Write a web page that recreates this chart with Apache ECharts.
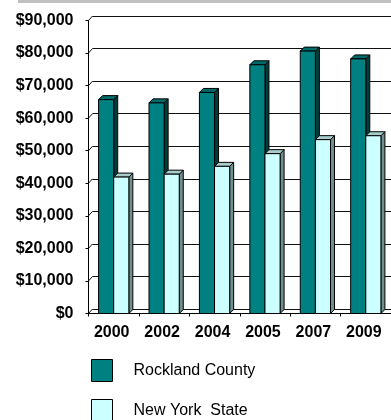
<!DOCTYPE html>
<html>
<head>
<meta charset="utf-8">
<script src="https://cdn.jsdelivr.net/npm/echarts@6/dist/echarts.min.js"></script>
<style>
html,body{margin:0;padding:0;background:#fff;}
#c{width:391px;height:420px;}
</style>
</head>
<body>
<div id="c"></div>
<script>
const years = ['2000', '2002', '2004', '2005', '2007', '2009'];
const rockland = [65700, 64700, 67900, 76400, 80600, 78200];
const newYork = [41900, 42800, 45200, 49100, 53400, 54600];
const seriesNames = ['Rockland County', 'New York  State'];
const gridValues = [0, 10000, 20000, 30000, 40000, 50000, 60000, 70000, 80000, 90000];

const FONT = '"Liberation Sans", Arial, sans-serif';
const D = 4;      // depth offset x
const DY = 4.5;   // depth offset y

function fmt(v) {
  return '$' + String(v).replace(/\B(?=(\d{3})+(?!\d))/g, ',');
}

function makeRender(left, front, side, top) {
  return function (params, api) {
    const cat = api.value(0), v = api.value(1);
    const p = api.coord([cat, v]);
    const b = api.coord([cat, 0]);
    const bw = api.size([1, 0])[0];
    const w = bw * 0.3;
    const x0 = left ? p[0] - w : p[0];
    const x1 = x0 + w;
    const yT = p[1], yB = b[1];
    const st = {stroke: '#000', lineWidth: 1};
    return {
      type: 'group',
      children: [
        {type: 'polygon', shape: {points: [[x1, yT], [x1 + D, yT - D], [x1 + D, yB - D], [x1, yB]]},
         style: Object.assign({fill: side}, st)},
        {type: 'polygon', shape: {points: [[x0, yT], [x0 + D, yT - D], [x1 + D, yT - D], [x1, yT]]},
         style: Object.assign({fill: top}, st)},
        {type: 'rect', shape: {x: x0, y: yT, width: w, height: yB - yT},
         style: Object.assign({fill: front}, st)}
      ]
    };
  };
}

const legendBase = {
  orient: 'vertical', left: 91, padding: 0,
  itemWidth: 21, itemHeight: 22,
  icon: 'rect',
  textStyle: {fontFamily: FONT, fontSize: 16, color: '#000', padding: [0, 0, 0, 16]}
};

const chart = echarts.init(document.getElementById('c'), null, {renderer: 'canvas'});
chart.setOption({
  animation: false,
  backgroundColor: '#fff',
  graphic: [{
    type: 'rect', left: 18, top: 0, shape: {width: 380, height: 3},
    style: {fill: '#c0c0c0'}, silent: true
  }],
  legend: [
    Object.assign({}, legendBase, {top: 359,
      data: [{name: seriesNames[0], itemStyle: {color: '#008080', borderColor: '#000', borderWidth: 1}}]}),
    Object.assign({}, legendBase, {top: 399,
      data: [{name: seriesNames[1], itemStyle: {color: '#ccffff', borderColor: '#000', borderWidth: 1}}]})
  ],
  grid: [
    {left: 88.5 + D, top: 20.5 - DY, width: 309, height: 293, containLabel: false},
    {left: 88.5, top: 20.5, width: 309, height: 293, containLabel: false}
  ],
  xAxis: [
    {gridIndex: 0, type: 'category', data: years, show: false},
    {gridIndex: 1, type: 'category', data: years, boundaryGap: true,
     axisLine: {show: true, lineStyle: {color: '#000', width: 1}},
     axisTick: {show: true, length: 3, lineStyle: {color: '#000'}},
     axisLabel: {fontFamily: FONT, fontSize: 16, fontWeight: 'bold', color: '#000', margin: 11, padding: [0, 4, 0, 0]}
    }
  ],
  yAxis: [
    {gridIndex: 0, type: 'value', min: 0, max: 90000, interval: 10000,
     axisLine: {show: false}, axisTick: {show: false}, axisLabel: {show: false},
     splitLine: {show: true, lineStyle: {color: '#111', width: 1}}},
    {gridIndex: 1, type: 'value', min: 0, max: 90000, interval: 10000,
     axisLine: {show: true, lineStyle: {color: '#000', width: 1}},
     axisTick: {show: true, length: 3, lineStyle: {color: '#000'}},
     splitLine: {show: false},
     axisLabel: {fontFamily: FONT, fontSize: 16, fontWeight: 'bold', color: '#000', margin: 15, formatter: fmt}}
  ],
  series: [
    {
      type: 'custom', name: '_wall', xAxisIndex: 0, yAxisIndex: 0, silent: true,
      data: gridValues.map(v => [0, v]),
      renderItem: function (params, api) {
        const y = api.coord([0, api.value(1)])[1];
        const x = params.coordSys.x;
        return {type: 'line', shape: {x1: x - D, y1: y + DY, x2: x, y2: y},
                style: {stroke: '#111', lineWidth: 1}};
      }
    },
    {
      type: 'custom', name: seriesNames[0], xAxisIndex: 1, yAxisIndex: 1,
      itemStyle: {color: '#008080', borderColor: '#000', borderWidth: 1},
      data: rockland.map((v, i) => [i, v]),
      encode: {x: 0, y: 1},
      renderItem: makeRender(true, '#008080', '#003c3c', '#006a6a')
    },
    {
      type: 'custom', name: seriesNames[1], xAxisIndex: 1, yAxisIndex: 1,
      itemStyle: {color: '#ccffff', borderColor: '#000', borderWidth: 1},
      data: newYork.map((v, i) => [i, v]),
      encode: {x: 0, y: 1},
      renderItem: makeRender(false, '#ccffff', '#6f8f8f', '#a6cccc')
    }
  ]
});
</script>
</body>
</html>
